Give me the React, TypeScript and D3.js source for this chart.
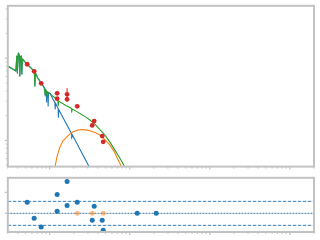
import React from "react";
import * as d3 from "d3";

// Photometry (wavelength in micron, flux in 1e-11 erg s^-1 cm^-2)
const obsWave = [0.524, 0.64, 0.783, 1.24, 1.24, 1.65, 1.65, 2.21, 3.4, 3.6, 4.53, 4.66];
const obsFlux = [8.45, 6.94, 4.95, 3.74, 3.22, 3.64, 3.16, 2.6, 1.52, 1.72, 1.13, 0.96];
const obsErr = [0.08, 0.08, 0.06, 0.05, 0.05, 0.67, 0.05, 0.04, 0.03, 0.03, 0.02, 0.02];

// Total model (green)
const totalWave = [0.3, 0.378, 0.389, 0.395, 0.406, 0.418, 0.424, 0.43, 0.443, 0.449, 0.456, 0.49, 0.524, 0.566, 0.617, 0.644, 0.653, 0.663, 0.712, 0.783, 0.846, 0.883, 0.896, 0.936, 0.95, 1.006, 1.106, 1.23, 1.266, 1.277, 1.296, 1.42, 1.594, 1.789, 1.879, 1.884, 1.905, 2.188, 2.504, 2.835, 3.181, 3.673, 4.242, 4.898, 5.654, 6.531, 7.542, 8.71, 9.495];
const totalFlux = [8.05, 7.0, 10.66, 6.62, 11.6, 10.97, 6.08, 10.37, 10.66, 6.44, 9.81, 9.02, 8.45, 7.83, 7.2, 6.9, 4.59, 6.62, 5.75, 5.0, 4.47, 3.57, 4.11, 3.37, 3.88, 3.74, 3.42, 3.19, 3.1, 2.62, 3.01, 2.85, 2.66, 2.51, 2.44, 2.21, 2.41, 2.24, 2.07, 1.92, 1.77, 1.58, 1.355, 1.16, 0.953, 0.762, 0.608, 0.473, 0.377];

// Stellar photosphere (blue)
const starWave = [0.3, 0.378, 0.389, 0.395, 0.406, 0.418, 0.424, 0.43, 0.443, 0.449, 0.456, 0.49, 0.524, 0.566, 0.617, 0.644, 0.653, 0.663, 0.712, 0.783, 0.846, 0.871, 0.879, 0.886, 0.91, 0.917, 0.925, 0.95, 0.957, 0.966, 1.006, 1.065, 1.106, 1.161, 1.172, 1.182, 1.23, 1.277, 1.284, 1.296, 1.42, 1.594, 1.789, 1.879, 1.884, 1.894, 2.126, 2.385, 2.754, 3.09, 3.273];
const starFlux = [8.05, 7.0, 10.66, 6.62, 11.6, 10.97, 6.08, 10.37, 10.66, 6.44, 9.81, 9.02, 8.45, 7.83, 7.2, 6.9, 4.59, 6.62, 5.75, 5.0, 4.47, 4.28, 3.47, 4.165, 3.99, 2.93, 3.94, 3.83, 2.62, 3.77, 3.74, 3.37, 3.146, 2.89, 2.41, 2.85, 2.62, 2.44, 1.92, 2.38, 2.006, 1.626, 1.317, 1.21, 1.052, 1.194, 0.967, 0.783, 0.6, 0.486, 0.434];

// Dust blackbody (orange)
const dustWave = [1.145, 1.23, 1.341, 1.462, 1.626, 1.789, 1.966, 2.188, 2.504, 2.835, 3.181, 3.673, 4.242, 4.898, 5.654, 6.346, 6.855, 7.328, 7.925, 8.22];
const dustFlux = [0.434, 0.625, 0.828, 0.981, 1.097, 1.194, 1.273, 1.324, 1.355, 1.343, 1.309, 1.245, 1.16, 1.023, 0.877, 0.741, 0.631, 0.551, 0.479, 0.434];

// Residuals
const resWave = [0.524, 0.64, 0.783, 1.24, 1.24, 1.65, 1.65, 2.21, 3.4, 3.6, 4.53, 4.66, 12.4, 21.4];
const resVal = [2.62, -1.19, -3.26, 4.52, 0.48, 7.62, 1.9, 2.62, -1.67, 1.67, -1.67, -4.05, 0, 0];
const limWave = [2.21, 3.4, 4.66];
const limVal = [0, 0, 0];

const yTicksMain = [1, 10];
const yTicksRes = [0, 5];
const resBand = 2.86;

const W = 320, H = 240;
const L = 7.8, R = 314;
const mainTop = 5.8, mainBot = 166.6;
const resTop = 177.8, resBot = 232;
const frame = "#c2c2c2";

export default function App() {
  const x = d3.scaleLog().domain([0.3, 2000]).range([L, R]);
  const y = d3.scaleLog().domain([0.48, 43.5]).range([mainBot, mainTop]);
  const yr = d3.scaleLinear().domain([-4.45, 8.48]).range([resBot, resTop]);

  const line = (ws: number[], fs: number[]) =>
    d3.line<number>().x((_, i) => x(ws[i])).y((_, i) => y(fs[i]))(ws) || "";

  // log ticks
  const xMinor: number[] = [];
  const xMajor: number[] = [];
  for (let e = -1; e <= 3; e++) {
    for (let m = 1; m <= 9; m++) {
      const v = m * Math.pow(10, e);
      if (v < 0.3 * 0.999 || v > 2000 * 1.001) continue;
      if (m === 1) xMajor.push(v);
      else xMinor.push(v);
    }
  }
  const yMinor: number[] = [];
  for (let e = -1; e <= 1; e++) {
    for (let m = 2; m <= 9; m++) {
      const v = m * Math.pow(10, e);
      if (v < 0.48 || v > 43.5) continue;
      yMinor.push(v);
    }
  }

  const xTicks = (yb: number, key: string) => (
    <g key={key}>
      {xMinor.map((v, i) => (
        <line key={"mi" + i} x1={x(v)} x2={x(v)} y1={yb} y2={yb + 2} stroke={frame} strokeWidth={1} />
      ))}
      {xMajor.map((v, i) => (
        <line key={"ma" + i} x1={x(v)} x2={x(v)} y1={yb} y2={yb + 3} stroke={frame} strokeWidth={1.2} />
      ))}
    </g>
  );

  return (
    <svg width={W} height={H} style={{ position: "absolute", left: 0, top: 0, background: "#fff" }}>
      <defs>
        <clipPath id="mainClip">
          <rect x={L} y={mainTop} width={R - L} height={mainBot - mainTop} />
        </clipPath>
      </defs>
      {/* main panel curves */}
      <g clipPath="url(#mainClip)" fill="none" strokeWidth={1.1} strokeLinejoin="round">
        <path d={line(starWave, starFlux)} stroke="#1f77b4" />
        <path d={line(dustWave, dustFlux)} stroke="#ff7f0e" />
        <path d={line(totalWave, totalFlux)} stroke="#2ca02c" />
      </g>
      {/* observations */}
      <g>
        {obsWave.map((w, i) => (
          <line key={"e" + i} x1={x(w)} x2={x(w)} y1={y(obsFlux[i] + obsErr[i])} y2={y(obsFlux[i] - obsErr[i])} stroke="#d62728" strokeWidth={1.1} />
        ))}
        {obsWave.map((w, i) => (
          <circle key={"o" + i} cx={x(w)} cy={y(obsFlux[i])} r={2.4} fill="#d62728" />
        ))}
      </g>
      {/* main frame */}
      <rect x={L} y={mainTop} width={R - L} height={mainBot - mainTop} fill="none" stroke={frame} strokeWidth={2} />
      {yMinor.map((v, i) => (
        <line key={"ym" + i} x1={L - 2} x2={L} y1={y(v)} y2={y(v)} stroke={frame} strokeWidth={1} />
      ))}
      {yTicksMain.map((v, i) => (
        <line key={"yM" + i} x1={L - 3} x2={L} y1={y(v)} y2={y(v)} stroke={frame} strokeWidth={1.2} />
      ))}
      {xTicks(mainBot, "xt1")}

      {/* residual panel */}
      <line x1={L} x2={R} y1={yr(resBand)} y2={yr(resBand)} stroke="#3f7fb5" strokeWidth={1} strokeDasharray="3.5,1.5" />
      <line x1={L} x2={R} y1={yr(-resBand)} y2={yr(-resBand)} stroke="#3f7fb5" strokeWidth={1} strokeDasharray="3.5,1.5" />
      <line x1={L} x2={R} y1={yr(0)} y2={yr(0)} stroke="#a9c9e2" strokeWidth={1} />
      <line x1={L} x2={R} y1={yr(0)} y2={yr(0)} stroke="#4f6f8f" strokeWidth={1} strokeDasharray="1,2" />
      {resWave.map((w, i) => (
        <circle key={"r" + i} cx={x(w)} cy={yr(resVal[i])} r={2.5} fill="#1f77b4" />
      ))}
      {limWave.map((w, i) => (
        <circle key={"l" + i} cx={x(w)} cy={yr(limVal[i])} r={2.5} fill="#ff7f0e" fillOpacity={0.5} />
      ))}
      <rect x={L} y={resTop} width={R - L} height={resBot - resTop} fill="none" stroke={frame} strokeWidth={2} />
      {yTicksRes.map((v, i) => (
        <line key={"yr" + i} x1={L - 3} x2={L} y1={yr(v)} y2={yr(v)} stroke={frame} strokeWidth={1.2} />
      ))}
      {xTicks(resBot, "xt2")}
    </svg>
  );
}
